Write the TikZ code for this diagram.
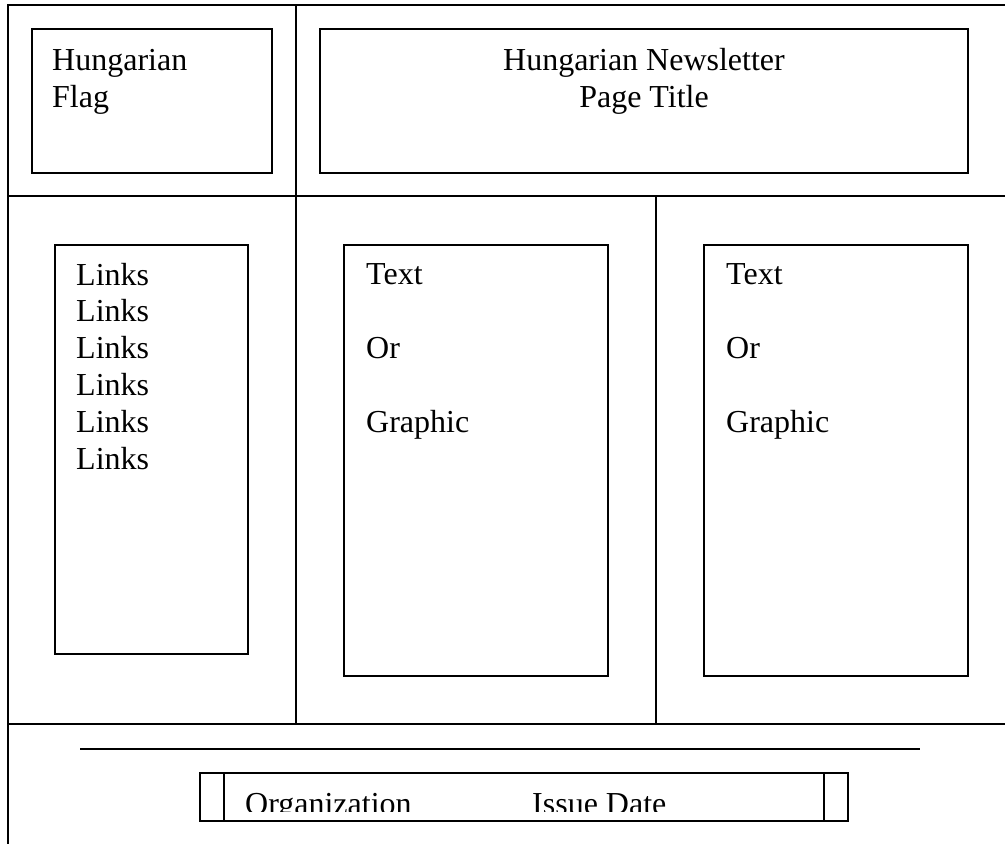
\documentclass[tikz,border=0pt]{standalone}
\usepackage{fontspec}
\setmainfont{Liberation Serif}

\begin{document}
\begin{tikzpicture}[x=1pt, y=-1pt,
	box/.style = {line width=1.8pt},
	lbl/.style = {anchor=base west, inner sep=0pt, align=left, font=\fontsize{32}{36.8}\selectfont},
	ttl/.style = {anchor=base, inner sep=0pt, align=center, font=\fontsize{32}{36.8}\selectfont}]

	\useasboundingbox (0,0) rectangle (1005,844);

	% page grid
	\draw [box] (1005,5) -- (8,5) -- (8,844);
	\draw [box] (8,196) -- (1005,196);
	\draw [box] (8,724) -- (1005,724);
	\draw [box] (296,5) -- (296,724);
	\draw [box] (656,196) -- (656,724);

	% header (node base = last line)
	\draw [box] (32,29) rectangle (272,173);
	\node [lbl] (flag) at (52,107) {Hungarian\\Flag};
	\draw [box] (320,29) rectangle (968,173);
	\node [ttl] (title) at (644,107) {Hungarian Newsletter\\Page Title};

	% columns
	\draw [box] (55,245) rectangle (248,654);
	\node [lbl] (links) at (76,469) {Links\\Links\\Links\\Links\\Links\\Links};
	\draw [box] (344,245) rectangle (608,676);
	\node [lbl] (midtext) at (366,432) {Text\\[36.8pt]Or\\[36.8pt]Graphic};
	\draw [box] (704,245) rectangle (968,676);
	\node [lbl] (righttext) at (726,432) {Text\\[36.8pt]Or\\[36.8pt]Graphic};

	% footer
	\draw [box] (80,749) -- (920,749);
	\draw [box] (200,773) rectangle (848,821);
	\draw [box] (224,773) -- (224,821);
	\draw [box] (824,773) -- (824,821);
	\begin{scope}
		\clip (224,775) rectangle (824,811);
		\node [lbl] (org) at (245,814) {Organization};
		\node [lbl] (date) at (532,814) {Issue Date};
	\end{scope}

\end{tikzpicture}
\end{document}
